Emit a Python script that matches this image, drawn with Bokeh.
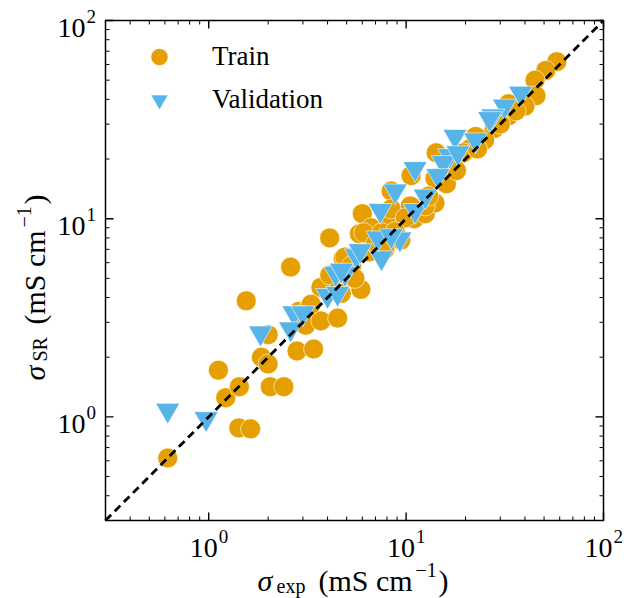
import numpy as np
from bokeh.plotting import figure
from bokeh.models import Legend, LegendItem, LogScale
from bokeh.core.properties import value
from bokeh.embed import file_html
from bokeh.resources import INLINE

# ---------------- data ----------------
train_x = [0.62, 1.12, 1.22, 1.43, 1.42, 1.63, 2.05, 2.40, 1.55, 1.85, 2.00, 2.00,
           2.60, 2.80, 3.40, 2.85, 3.13, 3.10, 3.70, 3.70, 4.10, 4.50, 4.80, 4.10,
           4.50, 6.00, 5.80, 5.90, 4.70, 9.40, 11.0, 12.5, 14.0, 8.10, 6.65, 4.90,
           58.0, 51.0, 45.0, 45.5, 40.0, 33.0, 33.0, 28.0, 25.0, 22.5, 21.0, 19.5,
           14.2, 10.6, 8.40, 14.0, 17.3, 23.0, 12.5, 13.0, 8.40, 10.5, 9.90, 6.10,
           5.30, 6.50, 7.00, 7.50, 8.80, 16.0, 18.0, 30.0, 36.0, 3.30, 5.50, 7.80]
train_y = [0.62, 1.72, 1.25, 1.42, 0.88, 0.87, 1.42, 1.42, 3.85, 2.00, 1.85, 2.60,
           5.70, 2.15, 2.20, 3.40, 3.43, 2.90, 3.05, 4.50, 8.00, 3.15, 6.30, 5.20,
           4.30, 10.6, 8.40, 4.40, 4.20, 7.80, 10.0, 10.6, 12.0, 9.40, 9.00, 6.40,
           62.0, 56.0, 50.0, 41.7, 37.0, 38.0, 33.0, 28.5, 25.0, 26.0, 22.5, 21.5,
           21.5, 16.5, 13.8, 16.0, 19.2, 22.5, 11.6, 13.0, 11.2, 11.6, 10.1, 8.50,
           5.80, 6.80, 7.50, 8.50, 8.60, 15.0, 17.5, 30.0, 35.0, 3.70, 5.00, 7.00]

val_x = [0.62, 0.97, 1.83, 2.70, 2.60, 3.00, 4.00, 4.50, 4.40, 4.90, 5.60, 7.40,
         9.30, 7.50, 5.85, 7.20, 4.70, 11.1, 38.0, 31.5, 27.5, 26.5, 17.7, 16.6,
         22.5, 11.1, 8.80, 15.4, 14.5, 18.3, 12.5, 8.40]
val_y = [1.08, 0.98, 2.65, 3.35, 2.78, 3.35, 4.10, 4.20, 5.30, 5.30, 6.50, 11.0,
         7.90, 6.35, 6.90, 8.00, 5.50, 11.0, 43.0, 37.0, 33.0, 32.0, 26.0, 20.8,
         25.0, 17.9, 13.8, 19.2, 16.5, 21.5, 13.0, 8.20]

axis_min = 0.3
axis_max = 100.0
parity_line = [axis_min, axis_max]

major_ticks = [1.0, 10.0, 100.0]
major_base = ["10", "10", "10"]
major_expo = ["0", "1", "2"]
minor_ticks = [0.4, 0.5, 0.6, 0.7, 0.8, 0.9,
               2, 3, 4, 5, 6, 7, 8, 9,
               20, 30, 40, 50, 60, 70, 80, 90]

ORANGE = "#E69F00"
BLUE = "#56B4E9"
FONT = "Liberation Serif"

# ---------------- layout (pixels) ----------------
W, H = 624, 598
L, R, T, B = 105, 603, 20, 520          # visible axes box in canvas pixels
span = np.log10(axis_max / axis_min)
dx = (R - L) / span                     # pixels per decade
dy = (B - T) / span
x_lo = 10 ** (np.log10(axis_min) - L / dx)
x_hi = 10 ** (np.log10(axis_max) + (W - R) / dx)
y_lo = 10 ** (np.log10(axis_min) - (H - B) / dy)
y_hi = 10 ** (np.log10(axis_max) + T / dy)

p = figure(width=W, height=H, x_range=(x_lo, x_hi), y_range=(y_lo, y_hi),
           x_axis_location=None, y_axis_location=None,
           output_backend="svg", toolbar_location=None, min_border=0)
p.x_scale = LogScale()
p.y_scale = LogScale()
p.outline_line_color = None
p.background_fill_color = "white"
p.border_fill_color = "white"
p.grid.visible = False

r_train = p.scatter(train_x, train_y, marker="circle", size=20,
                    fill_color=ORANGE, line_color="white", line_width=0.6)
r_val = p.scatter(val_x, val_y, marker="inverted_triangle", size=24,
                  fill_color=BLUE, line_color="white", line_width=0.6)
p.line(parity_line, parity_line, line_color="black", line_width=2.8,
       line_dash="8 5")

# axes box
p.quad(left=[axis_min], right=[axis_max], bottom=[axis_min], top=[axis_max],
       fill_color=None, line_color="black", line_width=1.5)

# inward ticks on all four sides
def ticks(vals, length, width):
    vals = np.asarray(vals, dtype=float)
    n = len(vals)
    fx = 10 ** (length / dx)
    fy = 10 ** (length / dy)
    lo = np.full(n, axis_min)
    hi = np.full(n, axis_max)
    p.segment(x0=vals, y0=lo, x1=vals, y1=lo * fy, line_color="black", line_width=width)
    p.segment(x0=vals, y0=hi, x1=vals, y1=hi / fy, line_color="black", line_width=width)
    p.segment(x0=lo, y0=vals, x1=lo * fx, y1=vals, line_color="black", line_width=width)
    p.segment(x0=hi, y0=vals, x1=hi / fx, y1=vals, line_color="black", line_width=width)

ticks(major_ticks, 8, 1.4)
ticks(minor_ticks, 4, 1.0)

# tick labels (10 with superscript exponent)
n = len(major_ticks)
lo = [axis_min] * n
p.text(x=major_ticks, y=lo, text=major_base, text_font=value(FONT),
       text_font_size="28px", text_align="center", text_baseline="alphabetic",
       x_offset=-5, y_offset=27, text_color="black")
p.text(x=major_ticks, y=lo, text=major_expo, text_font=value(FONT),
       text_font_size="19px", text_align="left", text_baseline="alphabetic",
       x_offset=10, y_offset=16, text_color="black")
p.text(x=lo, y=major_ticks, text=major_base, text_font=value(FONT),
       text_font_size="28px", text_align="right", text_baseline="alphabetic",
       x_offset=-20, y_offset=7, text_color="black")
p.text(x=lo, y=major_ticks, text=major_expo, text_font=value(FONT),
       text_font_size="19px", text_align="left", text_baseline="alphabetic",
       x_offset=-19, y_offset=-4, text_color="black")

# ---------------- legend ----------------
legend = Legend(items=[LegendItem(label="Train", renderers=[r_train]),
                       LegendItem(label="Validation", renderers=[r_val])],
                location=(134, 477), glyph_width=50, glyph_height=43,
                padding=0, margin=0, spacing=0, label_standoff=28,
                label_text_font=FONT, label_text_font_size="27px",
                label_text_color="black",
                border_line_color=None, background_fill_alpha=0)
p.add_layout(legend, "center")

# ---------------- axis labels (composed; canvas pixel positions) ----------------
def axlab(cx, cy, txt, size, angle=0.0, style="normal"):
    p.text(x=[axis_min], y=[axis_min], text=[txt], x_offset=cx - L, y_offset=cy - B,
           text_font=value(FONT), text_font_size=size, text_font_style=style,
           angle=angle, text_align="left", text_baseline="alphabetic",
           text_color="black")

bx = 580
axlab(257, bx, "σ", "30px", style="italic")
axlab(276, bx + 5, "exp", "20px")
axlab(318, bx, "(mS cm", "30px")
axlab(415, bx - 11, "−1", "20px")
axlab(438, bx, ")", "30px")

by = 34
ang = np.pi / 2
axlab(by, 380, "σ", "30px", angle=ang, style="italic")
axlab(by + 5, 361, "SR", "20px", angle=ang)
axlab(by, 324, "(mS cm", "30px", angle=ang)
axlab(by - 11, 227, "−1", "20px", angle=ang)
axlab(by, 204, ")", "30px", angle=ang)

open("out.html", "w").write(file_html(p, INLINE))
